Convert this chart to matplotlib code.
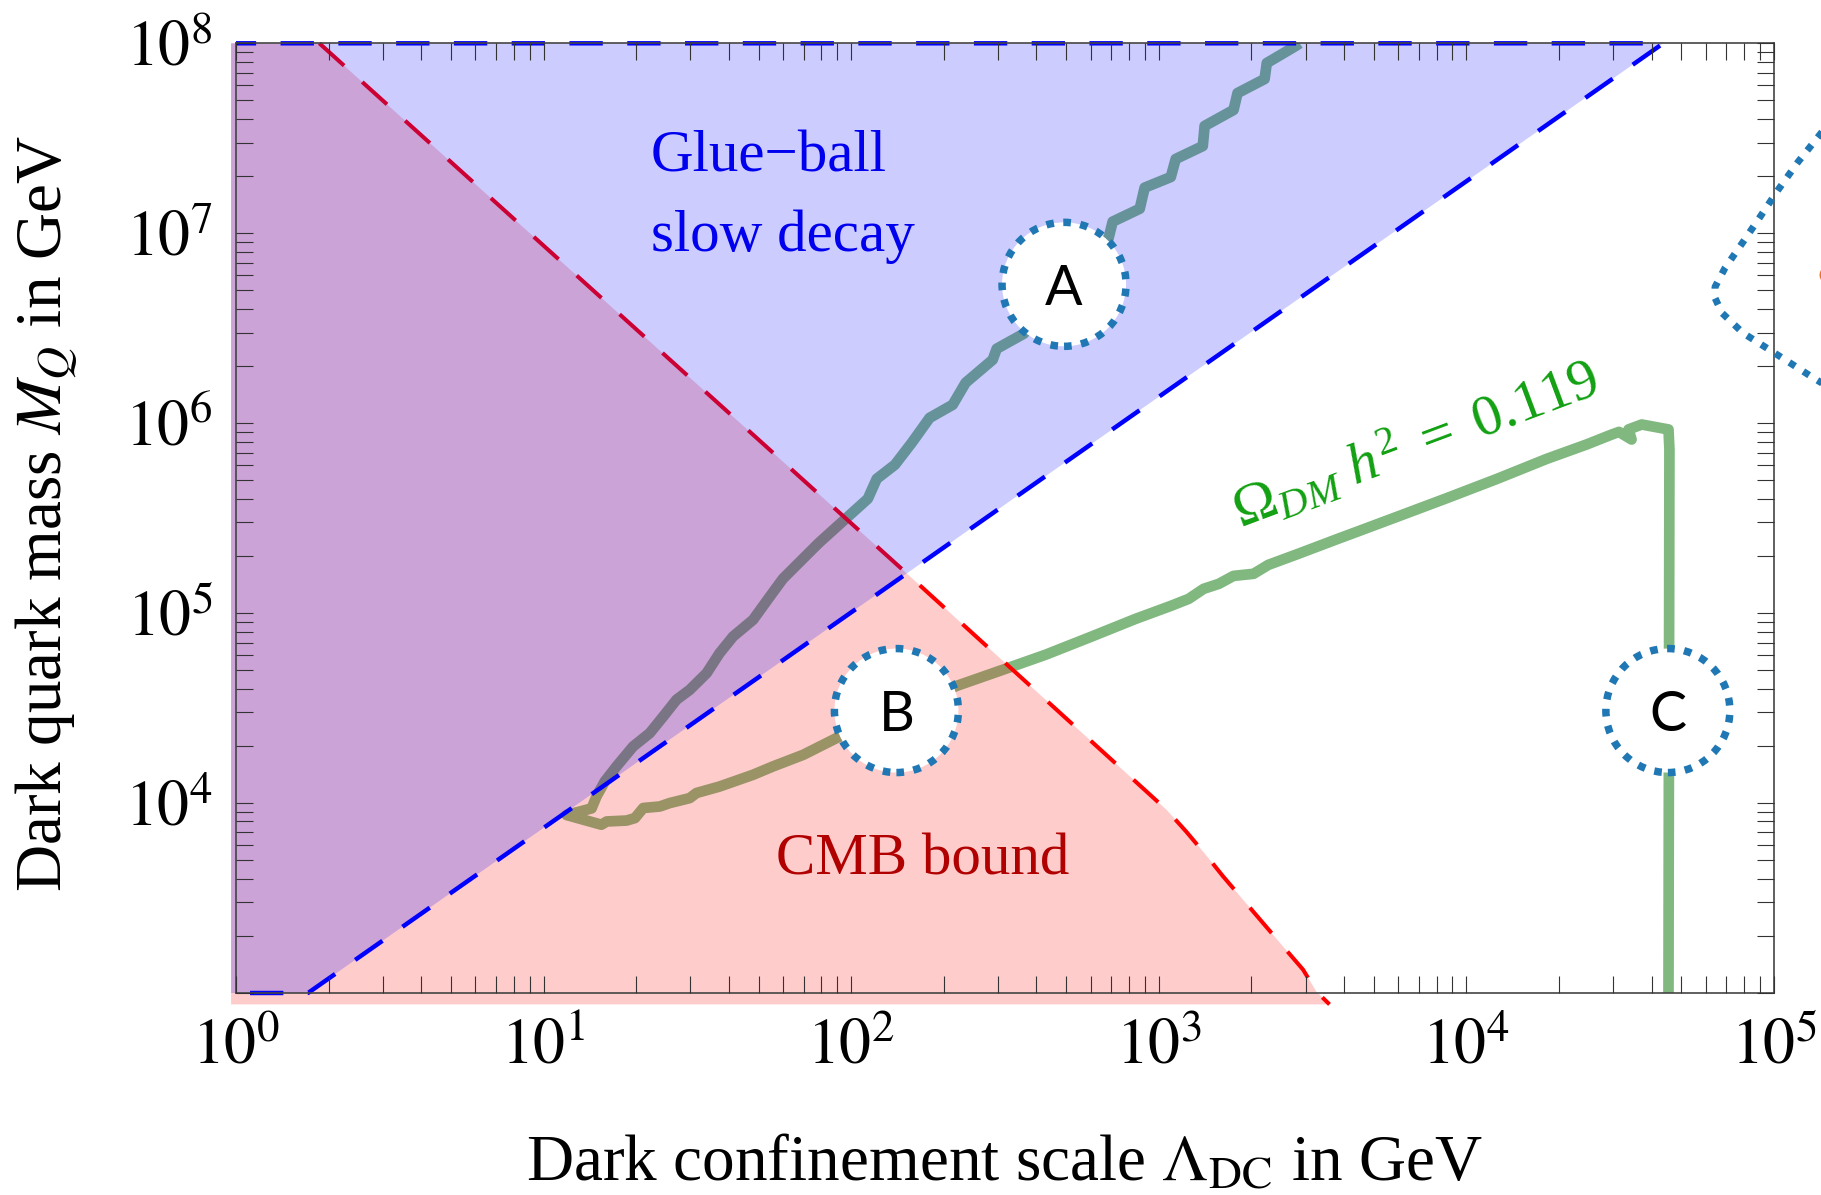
import numpy as np
import matplotlib
matplotlib.use("Agg")
import matplotlib.pyplot as plt
from matplotlib.patches import Circle, Polygon
from matplotlib.transforms import ScaledTranslation
from matplotlib.lines import Line2D
from matplotlib.ticker import LogLocator, FixedLocator, FixedFormatter, NullFormatter

plt.rcParams['font.family'] = ['Liberation Serif', 'DejaVu Serif']
plt.rcParams['mathtext.fontset'] = 'stix'
plt.rcParams['mathtext.it'] = 'Liberation Serif:italic'
plt.rcParams['mathtext.rm'] = 'Liberation Serif'
plt.rcParams['lines.scale_dashes'] = False

# ---------------- data (log10 of values in GeV) ----------------
# Omega_DM h^2 = 0.119 contour (branch A from top, tip, lower branch, then vertical branch C)
omega_log_lambda = [3.458, 3.445, 3.351, 3.344, 3.256, 3.243, 3.149, 3.143, 3.055, 3.039, 2.954, 2.938, 2.850, 2.837,
                    2.561, 2.473, 2.460, 2.372, 2.330, 2.255, 2.197, 2.142, 2.083, 2.054, 1.982, 1.895, 1.820, 1.778, 1.735,
                    1.681, 1.616, 1.572, 1.530, 1.475, 1.432, 1.389, 1.345, 1.291, 1.237, 1.199, 1.172, 1.156,
                    1.075,
                    1.188, 1.205, 1.270, 1.297, 1.324, 1.378, 1.410, 1.475, 1.497, 1.572, 1.681, 1.746, 1.844, 1.952,
                    2.343, 2.511, 2.632, 2.779, 2.925, 3.039, 3.097, 3.146, 3.195, 3.243, 3.308, 3.356, 3.453, 3.582, 3.647,
                    3.776, 3.939, 4.100, 4.261, 4.391, 4.472, 4.496, 4.537, 4.527, 4.570, 4.657, 4.660, 4.657]
omega_log_mq = [8.000, 7.986, 7.896, 7.812, 7.738, 7.649, 7.565, 7.459, 7.391, 7.296, 7.240, 7.129, 7.061, 6.976,
                6.471, 6.392, 6.334, 6.213, 6.097, 6.028, 5.897, 5.781, 5.707, 5.602, 5.497, 5.370, 5.249, 5.181, 5.086,
                4.965, 4.877, 4.789, 4.684, 4.596, 4.544, 4.456, 4.368, 4.298, 4.193, 4.114, 4.035, 3.972,
                3.937,
                3.886, 3.903, 3.908, 3.921, 3.974, 3.982, 4.000, 4.026, 4.053, 4.087, 4.149, 4.193, 4.254, 4.342,
                4.617, 4.712, 4.781, 4.875, 4.970, 5.038, 5.075, 5.128, 5.154, 5.196, 5.207, 5.254, 5.312, 5.391, 5.430,
                5.508, 5.607, 5.707, 5.812, 5.888, 5.940, 5.954, 5.914, 5.967, 5.993, 5.967, 5.862, 3.000]

# CMB bound boundary
cmb_log_lambda = [0.271, 2.184, 3.025, 3.089, 3.154, 3.209, 3.274, 3.339, 3.404, 3.469, 3.512, 3.555]
cmb_log_mq = [8.000, 5.204, 3.965, 3.850, 3.725, 3.614, 3.491, 3.368, 3.245, 3.123, 3.008, 2.940]

# Glue-ball slow decay boundary
glue_log_lambda = [0.234, 4.640]
glue_log_mq = [3.000, 8.000]

# plot range
x_range_exp = [0, 5]
y_range_exp = [3, 8]
x_tick_exps = [0, 1, 2, 3, 4, 5]
y_tick_exps = [3, 4, 5, 6, 7, 8]
x_tick_labels = [r'$10^{%d}$' % e for e in x_tick_exps]
y_tick_labels = [''] + [r'$10^{%d}$' % e for e in y_tick_exps[1:]]

# benchmark markers
circle_names = ['A', 'B', 'C']
circle_log_lambda = [2.692, 2.147, 4.655]
circle_log_mq = [6.731, 4.487, 4.487]

# region / annotation labels
glue_text_pos = [(1.732, 7.323), (1.777, 6.907)]
cmb_text_pos = (2.231, 3.623)
omega_text_pos = (3.836, 5.883)

# ---------------- figure ----------------
W, H = 1821, 1195
fig = plt.figure(figsize=(W / 100, H / 100), dpi=100)
ax = fig.add_axes([236 / W, 1 - 993 / H, (1774 - 236) / W, (993 - 43.3) / H])
ax.set_xscale('log')
ax.set_yscale('log')
ax.set_xlim(10.0 ** x_range_exp[0], 10.0 ** x_range_exp[1])
ax.set_ylim(10.0 ** y_range_exp[0], 10.0 ** y_range_exp[1])
ax.set_axisbelow(False)

P = lambda a: 10.0 ** np.asarray(a, dtype=float)
pad_x = -0.016
pad_y = 2.94

GREEN_LINE = '#80b880'

# relic density contour (underneath the translucent regions)
ax.plot(P(omega_log_lambda), P(omega_log_mq), color=GREEN_LINE, lw=7.7,
        solid_joinstyle='round', solid_capstyle='butt', zorder=1)

# CMB region
cmb_poly_x = [pad_x] + cmb_log_lambda + [pad_x]
cmb_poly_y = [8.0] + cmb_log_mq + [pad_y]
ax.add_patch(Polygon(np.column_stack([P(cmb_poly_x), P(cmb_poly_y)]), closed=True,
                     facecolor=(1, 0, 0, 0.2), edgecolor='none', zorder=2, clip_on=False))
ax.plot(P(cmb_log_lambda), P(cmb_log_mq), color='#ff0000', lw=2.9,
        linestyle=(0, (24, 17.6)), dash_capstyle='butt', zorder=2.2, clip_on=False)

# Glue-ball region
glue_poly_x = [pad_x, glue_log_lambda[1], glue_log_lambda[0], pad_x]
glue_poly_y = [glue_log_mq[1], glue_log_mq[1], glue_log_mq[0], glue_log_mq[0]]
ax.add_patch(Polygon(np.column_stack([P(glue_poly_x), P(glue_poly_y)]), closed=True,
                     facecolor=(0, 0, 1, 0.2), edgecolor='none', zorder=2.3, clip_on=False))
glue_path_x = [0.0, glue_log_lambda[0], glue_log_lambda[1], 0.0]
glue_path_y = [glue_log_mq[0], glue_log_mq[0], glue_log_mq[1], glue_log_mq[1]]
ax.plot(P(glue_path_x), P(glue_path_y), color='#0000ff', lw=3.2,
        linestyle=(31.5, (24, 17.6)), dash_capstyle='butt', zorder=2.4, clip_on=False)

# ticks
ax.xaxis.set_major_locator(FixedLocator(P(x_tick_exps)))
ax.xaxis.set_major_formatter(FixedFormatter(x_tick_labels))
ax.yaxis.set_major_locator(FixedLocator(P(y_tick_exps)))
ax.yaxis.set_major_formatter(FixedFormatter(y_tick_labels))
ax.xaxis.set_minor_locator(LogLocator(base=10, subs=np.arange(2, 10), numticks=20))
ax.yaxis.set_minor_locator(LogLocator(base=10, subs=np.arange(2, 10), numticks=20))
ax.xaxis.set_minor_formatter(NullFormatter())
ax.yaxis.set_minor_formatter(NullFormatter())
ax.tick_params(which='both', direction='in', top=True, right=True, length=12.5,
               width=0.8, color='#333333')
ax.tick_params(axis='x', which='major', labelsize=46, pad=19)
ax.tick_params(axis='y', which='major', labelsize=46, pad=16.5)
for s in ax.spines.values():
    s.set_linewidth(1.2)
    s.set_color('#444444')

# region labels
ax.text(P(glue_text_pos[0][0]), P(glue_text_pos[0][1]), 'Glue\u2212ball', color='#0000ee',
        fontsize=42.5, ha='center', va='baseline', zorder=6)
ax.text(P(glue_text_pos[1][0]), P(glue_text_pos[1][1]), 'slow decay', color='#0000ee',
        fontsize=42.5, ha='center', va='baseline', zorder=6)
ax.text(P(cmb_text_pos[0]), P(cmb_text_pos[1]), 'CMB bound', color='#b00000',
        fontsize=42.5, ha='center', va='baseline', zorder=6)
ax.text(P(omega_text_pos[0]), P(omega_text_pos[1]),
        r'$\mathit{\Omega_{DM}\ h^2\ =\ 0.119}$', math_fontfamily='custom',
        color='#12a012', fontsize=42, rotation=20.5, rotation_mode='anchor',
        ha='center', va='center', zorder=6)

# benchmark circles
for name, lx, ly in zip(circle_names, circle_log_lambda, circle_log_mq):
    tr = fig.dpi_scale_trans + ScaledTranslation(P(lx), P(ly), ax.transData)
    c = Circle((0, 0), 0.62, transform=tr, facecolor='white', edgecolor='#1f77b4',
               lw=5.4, linestyle=(0, (5.5, 6.8)), zorder=5, clip_on=False)
    ax.add_artist(c)
    ax.text(0, -0.205, name, transform=tr, family='Lato', fontsize=40, color='black',
            ha='center', va='baseline', zorder=6)

# axis labels
fig.text(1004.6 / W, 1 - 1165 / H, r'Dark confinement scale $\Lambda_{\rm DC}$ in GeV',
         fontsize=47, ha='center', va='center')
fig.text(47 / W, 1 - 514 / H, r'Dark quark mass $M_Q$ in GeV',
         fontsize=47, ha='center', va='center', rotation=90)

# neighbouring panel elements cut by the figure edge
edge_px_x = [1822, 1798, 1778, 1760, 1743, 1725, 1715, 1715, 1722, 1743, 1773, 1812, 1830]
edge_px_y = [132, 162, 190, 217, 242, 268, 287, 298, 313, 333, 352, 377, 388]
fig.add_artist(Line2D(np.array(edge_px_x) / W, 1 - np.array(edge_px_y) / H, transform=fig.transFigure,
                      color='#1f77b4', lw=5, linestyle=(0, (5, 7)), dash_capstyle='butt'))
ring_tr = fig.dpi_scale_trans + ScaledTranslation(1829 / W, 1 - 275 / H, fig.transFigure)
fig.add_artist(Circle((0, 0), 0.07, transform=ring_tr, facecolor='none',
                      edgecolor='#f07020', lw=3.5))

fig.savefig('out.png', dpi=100)
